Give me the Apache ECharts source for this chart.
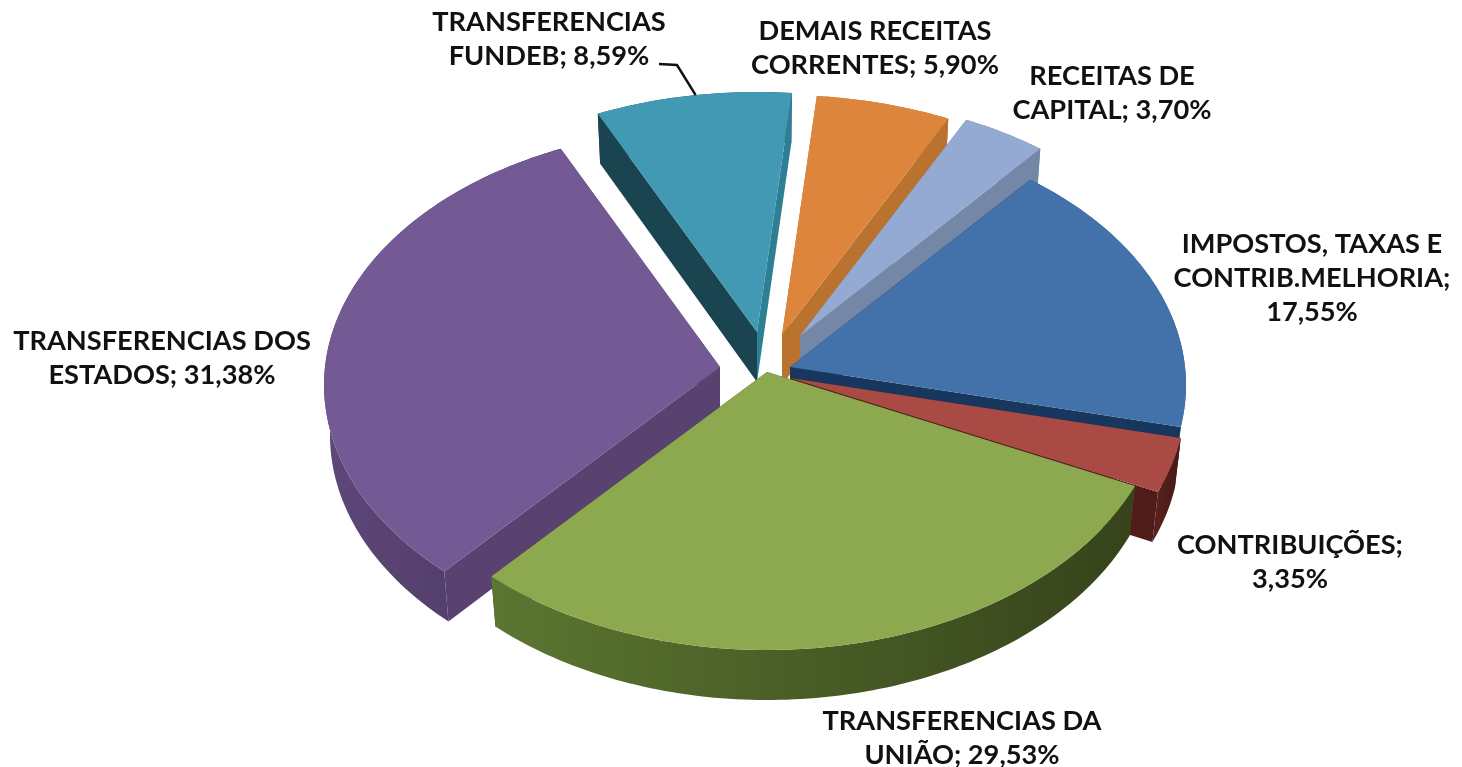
<!DOCTYPE html>
<html lang="pt">

<head>
    <meta charset="UTF-8">
    <title>Receitas</title>
    <script src="https://cdn.jsdelivr.net/npm/echarts@6/dist/echarts.min.js"></script>
    <style>
        html, body { margin: 0; background: #fff; }
        #main { width: 1462px; height: 767px; }
    </style>
</head>

<body>
    <div id="main"></div>

    <script>
        // valores, sentido horario
        var categories = ['IMPOSTOS, TAXAS E CONTRIB.MELHORIA', 'CONTRIBUIÇÕES', 'TRANSFERENCIAS DA UNIÃO',
            'TRANSFERENCIAS DOS ESTADOS', 'TRANSFERENCIAS FUNDEB', 'DEMAIS RECEITAS CORRENTES', 'RECEITAS DE CAPITAL'];
        var values = [17.55, 3.35, 29.53, 31.38, 8.59, 5.90, 3.70];
        var labelNames = ['IMPOSTOS, TAXAS E\nCONTRIB.MELHORIA', 'CONTRIBUIÇÕES', 'TRANSFERENCIAS DA\nUNIÃO',
            'TRANSFERENCIAS DOS\nESTADOS', 'TRANSFERENCIAS\nFUNDEB', 'DEMAIS RECEITAS\nCORRENTES', 'RECEITAS DE\nCAPITAL'];
        var valueOnOwnLine = [true, true, false, false, false, false, false];

        // estilo de cada fatia
        var topColors = ['#4371A9', '#AA4A44', '#8CA94F', '#745A94', '#4199B4', '#DD853C', '#94AAD2'];
        var cutColors = ['#17375E', '#4F1C1A', '#3F5022', '#5A4270', '#1B4451', '#B9732F', '#7487A6'];
        var wallLeft = ['#2C4C75', '#5A2220', '#5B7631', '#5E4779', '#1B4451', '#B9732F', '#7487A6'];
        var wallRight = ['#2C4C75', '#451816', '#36431B', '#4A3862', '#1B4451', '#B9732F', '#7487A6'];
        var endCutColors = ['#17375E', '#4F1C1A', '#3F5022', '#5A4270', '#2E7F96', '#B9732F', '#7487A6'];
        var drawOrder = [3, 5, 6, 4, 0, 1, 2]; // de tras para frente (por indice = ordem)
        var offsetX = [20, 20, -3, -50, -13, 12, 30];
        var offsetY = [7, 18, 12, 7, -28, -25, -24];
        var labelX = [1312, 1290, 962, 162, 549, 875, 1112];
        var labelY = [278, 562, 738, 358, 39, 48, 93];

        var startAngle = 40;
        var cx = 770, cy = 360;
        var rx = 395, persp = 0.07; // a frente fica maior
        var ryMid = 259, ryBend = 19;
        var depth = 50, bottomScale = 0.985;

        var total = 0;
        values.forEach(function (v) { total += v; });
        var starts = [], acc = startAngle;
        values.forEach(function (v) {
            starts.push(acc);
            acc += v / total * 360;
        });

        function project(t, i) {
            var a = t * Math.PI / 180;
            var d = -Math.cos(a);
            return [
                cx + offsetX[i] + rx * (1 + persp * d) * Math.sin(a),
                cy + offsetY[i] + d * (ryMid + ryBend * d)
            ];
        }

        function lower(p, i) {
            var ax = cx + offsetX[i];
            return [ax + (p[0] - ax) * bottomScale, p[1] + depth];
        }

        // corte na metade da frente fica atras da parede externa
        function cutZ(t, z, n) {
            return Math.cos(t * Math.PI / 180) < 0 ? z + 1 : z + n;
        }

        function renderSlice(params, api) {
            var i = params.dataIndex;
            var t0 = starts[i];
            var t1 = t0 + api.value(1) / total * 360;
            var apex = [cx + offsetX[i], cy + offsetY[i]];
            var apexLow = lower(apex, i);
            var arc = [];
            for (var t = t0; t < t1; t += 1) arc.push(project(t, i));
            arc.push(project(t1, i));
            var arcLow = arc.map(function (p) { return lower(p, i); });
            var first = arc[0], last = arc[arc.length - 1];
            var z = drawOrder.indexOf(i) * 10;

            var wallFill = new echarts.graphic.LinearGradient(0, 0, 1, 0, [
                { offset: 0, color: wallLeft[i] },
                { offset: 1, color: wallRight[i] }
            ]);

            var children = [
                {
                    type: 'polygon', z2: z + 2,
                    shape: { points: arc.concat(arcLow.slice().reverse()) },
                    style: { fill: wallFill }
                },
                {
                    type: 'polygon', z2: cutZ(t0, z, 3),
                    shape: { points: [apex, first, lower(first, i), apexLow] },
                    style: { fill: cutColors[i] }
                },
                {
                    type: 'polygon', z2: cutZ(t1, z, 4),
                    shape: { points: [apex, last, lower(last, i), apexLow] },
                    style: { fill: endCutColors[i] }
                },
                {
                    type: 'polygon', z2: z + 5,
                    shape: { points: [apex].concat(arc) },
                    style: { fill: topColors[i] }
                },
                {
                    type: 'text', z2: 100,
                    x: labelX[i], y: labelY[i],
                    style: {
                        text: labelNames[i] + ';' + (valueOnOwnLine[i] ? '\n' : ' ') + api.value(1).toFixed(2).replace('.', ',') + '%',
                        fill: '#111',
                        font: 'bold 27.2px Lato, "Noto Sans", sans-serif',
                        lineHeight: 34,
                        align: 'center',
                        verticalAlign: 'middle'
                    }
                }
            ];

            // linha de chamada do FUNDEB
            if (i === 4) {
                var hit = project(350.4, i);
                children.push({
                    type: 'polyline', z2: 100,
                    shape: { points: [[659, 64], [677, 65], hit] },
                    style: { fill: null, stroke: '#111', lineWidth: 2.5 }
                });
            }
            return { type: 'group', children: children };
        }

        var myChart = echarts.init(document.getElementById('main'));

        var option = {
            backgroundColor: '#fff',
            animation: false,
            series: [{
                type: 'custom',
                coordinateSystem: 'none',
                silent: true,
                renderItem: renderSlice,
                data: values.map(function (v, i) { return { name: categories[i], value: [i, v] }; })
            }]
        };

        myChart.setOption(option);
    </script>
</body>

</html>
